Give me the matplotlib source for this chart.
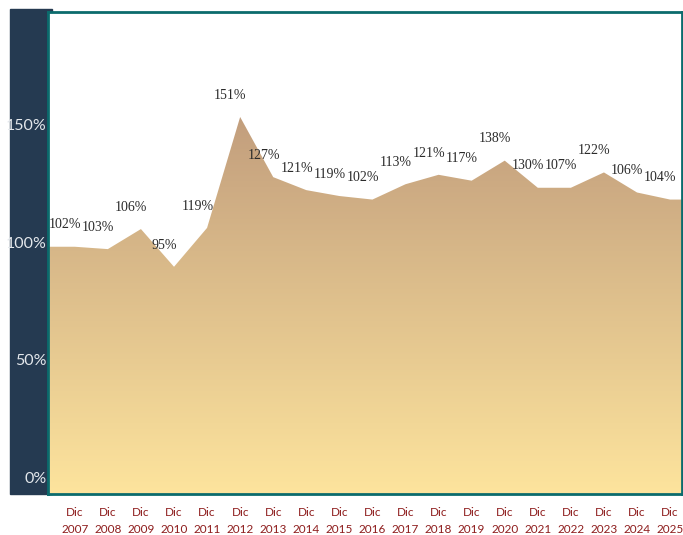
import numpy as np
import matplotlib.pyplot as plt
from matplotlib.colors import LinearSegmentedColormap
from matplotlib.patches import Rectangle

years = ['2007', '2008', '2009', '2010', '2011', '2012', '2013', '2014', '2015', '2016',
         '2017', '2018', '2019', '2020', '2021', '2022', '2023', '2024', '2025']
values = [98, 97, 105.5, 89.5, 106, 153, 127.5, 122, 119.5, 118,
          124.5, 128.5, 126, 134.5, 123, 123, 129.5, 121, 118]
labels = ['102%', '103%', '106%', '95%', '119%', '151%', '127%', '121%', '119%', '102%',
          '113%', '121%', '117%', '138%', '130%', '107%', '122%', '106%', '104%']
yticks = [0, 50, 100, 150]

navy = '#253a51'
teal = '#0b6b6d'

fig = plt.figure(figsize=(6.83, 5.35), dpi=100)
# dark panel behind the y labels
fig.patches.append(Rectangle((10 / 683, 41 / 535), 42 / 683, 485 / 535,
                             transform=fig.transFigure, color=navy, zorder=-1))

ax = fig.add_axes([48 / 683, 41 / 535, 634 / 683, 482 / 535])
ax.set_facecolor('white')
x = np.arange(len(years))
x0, x1 = -0.81, 18.36
y0, y1 = -6.8, 197.5

# area with vertical gradient
xf = np.r_[x0, x, x1]
yf = np.r_[values[0], values, values[-1]]
poly = ax.fill_between(xf, y0, yf, color='none', lw=0)
cmap = LinearSegmentedColormap.from_list('g', ['#fde49d', '#c29e7d'])
grad = np.linspace(0, 1, 256).reshape(-1, 1)
im = ax.imshow(grad, cmap=cmap, origin='lower', aspect='auto',
               extent=[x0, x1, y0, 153], zorder=1)
im.set_clip_path(poly.get_paths()[0], transform=ax.transData)
ax.set_xlim(x0, x1)
ax.set_ylim(y0, y1)

for xi, v, lab in zip(x, values, labels):
    ax.annotate(lab, (xi, v), xytext=(-7, 11), textcoords='offset points',
                ha='center', va='bottom', fontsize=10, family='Liberation Serif',
                color='#2a2a2a', zorder=3)

for s in ax.spines.values():
    s.set_color(teal)
    s.set_linewidth(2)

ax.set_yticks(yticks)
ax.set_yticklabels([f'{t}%' for t in yticks], color='#e4e8ec', fontsize=11.5, family='Lato')
ax.set_xticks(x)
ax.set_xticklabels([f'Dic\n{y}' for y in years], color='#8e1d1d', fontsize=8.5,
                   family='Lato', linespacing=1.7)
ax.tick_params(axis='y', length=0, pad=1)
ax.tick_params(axis='x', length=0, pad=9)

fig.savefig('out.png', dpi=100)
